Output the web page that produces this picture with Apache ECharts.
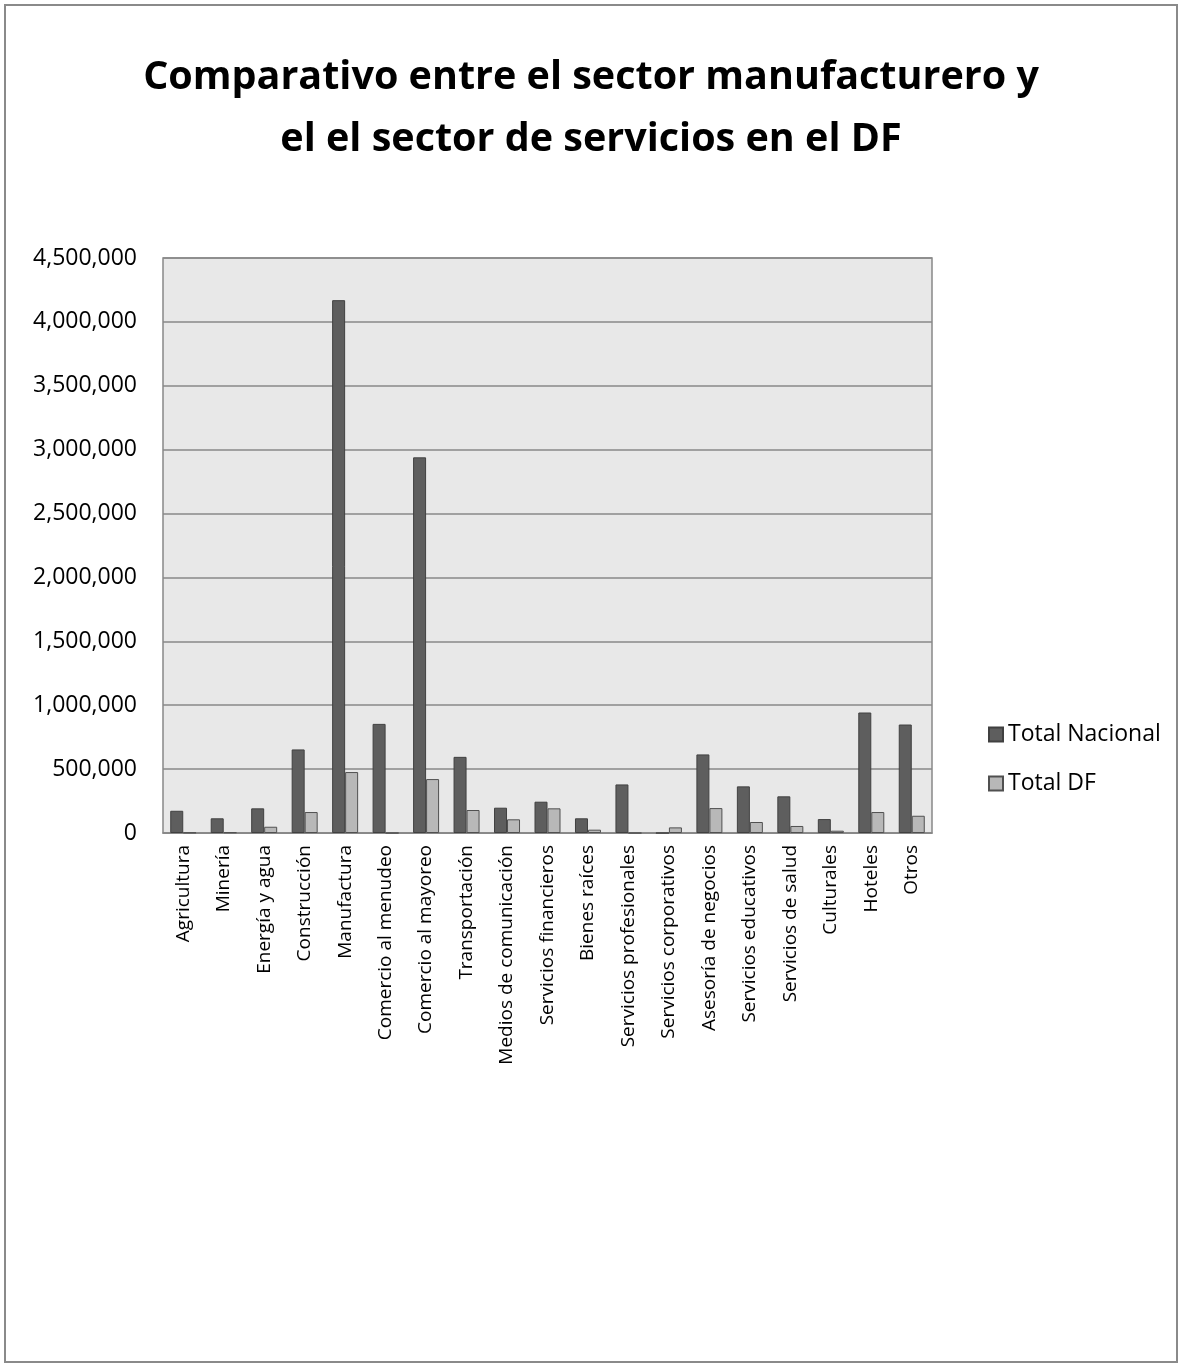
<!DOCTYPE html>
<html>
<head>
<meta charset="utf-8">
<script src="https://cdn.jsdelivr.net/npm/echarts@6/dist/echarts.min.js"></script>
<style>
  html, body { margin: 0; padding: 0; background: #fff; }
  #main { width: 1182px; height: 1367px; }
</style>
</head>
<body>
<div id="main"></div>
<script>
var categorias = ['Agricultura', 'Minería', 'Energía y agua', 'Construcción', 'Manufactura',
  'Comercio al menudeo', 'Comercio al mayoreo', 'Transportación', 'Medios de comunicación',
  'Servicios financieros', 'Bienes raíces', 'Servicios profesionales', 'Servicios corporativos',
  'Asesoría de negocios', 'Servicios educativos', 'Servicios de salud', 'Culturales', 'Hoteles', 'Otros'];

var totalNacional = [174000, 115000, 193000, 654000, 4170000, 854000, 2940000, 596000, 198000,
  245000, 115000, 380000, 0, 615000, 365000, 287000, 109000, 943000, 849000];

var totalDF = [3000, 5000, 49000, 164000, 477000, 0, 422000, 180000, 107000,
  193000, 26000, 0, 44000, 195000, 86000, 55000, 18000, 164000, 135000];

var yTicks = [0, 4500000, 500000]; // min, max, intervalo

var chart = echarts.init(document.getElementById('main'));

function miles(v) {
  return String(v).replace(/\B(?=(\d{3})+(?!\d))/g, ',');
}

var fuente = '"Open Sans", Lato, sans-serif';

var option = {
  backgroundColor: '#fff',
  animation: false,
  title: {
    text: 'Comparativo entre el sector manufacturero y\nel el sector de servicios en el DF',
    left: 'center',
    top: 42,
    textStyle: {
      fontFamily: fuente,
      fontWeight: 'bold',
      fontSize: 39.5,
      lineHeight: 62,
      color: '#000'
    }
  },
  graphic: [{
    type: 'rect',
    shape: { x: 5, y: 5, width: 1172, height: 1357 },
    style: { fill: 'none', stroke: '#8a8a8a', lineWidth: 2 },
    silent: true
  }],
  legend: {
    orient: 'vertical',
    left: 983,
    top: 718,
    itemWidth: 14,
    itemHeight: 14,
    itemGap: 26,
    icon: 'rect',
    textStyle: { fontFamily: fuente, fontSize: 23, color: '#000' },
    data: ['Total Nacional', 'Total DF']
  },
  grid: {
    left: 163,
    right: 250,
    top: 258,
    bottom: 534,
    show: true,
    backgroundColor: '#e8e8e8',
    borderColor: '#888',
    borderWidth: 1.5
  },
  xAxis: {
    type: 'category',
    data: categorias,
    axisLine: { lineStyle: { color: '#888', width: 1.5 } },
    axisTick: { show: false },
    axisLabel: {
      rotate: 90,
      interval: 0,
      margin: 12,
      fontFamily: fuente,
      fontSize: 19,
      color: '#000'
    }
  },
  yAxis: {
    type: 'value',
    min: yTicks[0],
    max: yTicks[1],
    interval: yTicks[2],
    axisLine: { show: false },
    axisTick: { show: false },
    splitLine: { lineStyle: { color: '#888', width: 1.5 } },
    axisLabel: {
      margin: 26,
      fontFamily: fuente,
      fontSize: 23,
      color: '#000',
      formatter: miles
    }
  },
  series: [{
    name: 'Total Nacional',
    type: 'bar',
    data: totalNacional,
    barWidth: 13,
    barGap: '0%',
    itemStyle: { color: '#5e5e5e', borderColor: '#404040', borderWidth: 1 }
  }, {
    name: 'Total DF',
    type: 'bar',
    data: totalDF,
    barWidth: 13,
    itemStyle: { color: '#b8b8b8', borderColor: '#505050', borderWidth: 1 }
  }]
};

chart.setOption(option);
</script>
</body>
</html>
